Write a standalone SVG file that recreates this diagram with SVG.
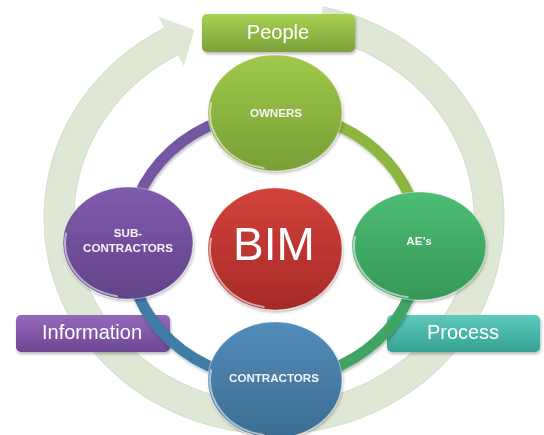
<svg xmlns="http://www.w3.org/2000/svg" width="544" height="435" viewBox="0 0 544 435">
  <defs>
    <linearGradient id="gOwn" x1="0" y1="0" x2="0" y2="1">
      <stop offset="0" stop-color="#a0c94b"/>
      <stop offset="1" stop-color="#779f35"/>
    </linearGradient>
    <linearGradient id="gSub" x1="0" y1="0" x2="0" y2="1">
      <stop offset="0" stop-color="#7f5bad"/>
      <stop offset="1" stop-color="#624389"/>
    </linearGradient>
    <linearGradient id="gBim" x1="0" y1="0" x2="0" y2="1">
      <stop offset="0" stop-color="#d3423a"/>
      <stop offset="1" stop-color="#a62a27"/>
    </linearGradient>
    <linearGradient id="gAe" x1="0" y1="0" x2="0" y2="1">
      <stop offset="0" stop-color="#4ebd75"/>
      <stop offset="1" stop-color="#359758"/>
    </linearGradient>
    <linearGradient id="gCon" x1="0" y1="0" x2="0" y2="1">
      <stop offset="0" stop-color="#528cb9"/>
      <stop offset="1" stop-color="#3b6c91"/>
    </linearGradient>
    <linearGradient id="gPeople" x1="0" y1="0" x2="0" y2="1">
      <stop offset="0" stop-color="#a8d053"/>
      <stop offset="1" stop-color="#7ca13a"/>
    </linearGradient>
    <linearGradient id="gInfo" x1="0" y1="0" x2="0" y2="1">
      <stop offset="0" stop-color="#9669bb"/>
      <stop offset="1" stop-color="#6c4693"/>
    </linearGradient>
    <linearGradient id="gProc" x1="0" y1="0" x2="0" y2="1">
      <stop offset="0" stop-color="#5ecbbd"/>
      <stop offset="1" stop-color="#35a193"/>
    </linearGradient>
    <filter id="sh" x="-20%" y="-20%" width="140%" height="140%">
      <feDropShadow dx="1" dy="2" stdDeviation="1.5" flood-color="#000" flood-opacity="0.28"/>
    </filter>
  </defs>
  <style>
    .lbl { font-family: "Liberation Sans", Arial, sans-serif; font-size: 20px; fill: #ffffff; text-anchor: middle; }
    .node { font-family: "Liberation Sans", Arial, sans-serif; font-size: 11.6px; font-weight: bold; fill: #f4f4f4; text-anchor: middle; }
    .bim { font-family: "Liberation Sans", Arial, sans-serif; font-size: 46px; fill: #ffffff; text-anchor: middle; }
    .rim { stroke: #ffffff; stroke-opacity: 0.35; stroke-width: 1.2; }
    .hl { fill: none; stroke: #ffffff; stroke-opacity: 0.55; stroke-width: 2; stroke-linecap: round; }
    .conn { fill: none; stroke-width: 11; stroke-linecap: butt; }
  </style>

  <g id="cycle-arrow">
    <path d="M 319.9 21.6 A 215 201 0 1 1 171.1 41.5" fill="none" stroke="#d5dec9" stroke-width="31"/>
    <path d="M 319.9 21.6 A 215 201 0 1 1 171.1 41.5" fill="none" stroke="#dfe7d5" stroke-width="29"/>
    <polygon points="158.4,16.5 194.3,29.7 183.8,66.4 171.6,42.5" fill="#dfe7d5"/>
  </g>

  <g id="people" filter="url(#sh)">
    <rect x="202" y="14" width="153" height="38" rx="5" fill="url(#gPeople)"/>
    <text class="lbl" x="278" y="38.5">People</text>
  </g>
  <g id="information" filter="url(#sh)">
    <rect x="16" y="315" width="154" height="37" rx="5" fill="url(#gInfo)"/>
    <text class="lbl" x="92" y="339">Information</text>
  </g>
  <g id="process" filter="url(#sh)">
    <rect x="387" y="315" width="153" height="37" rx="5" fill="url(#gProc)"/>
    <text class="lbl" x="463" y="339">Process</text>
  </g>

  <g id="connectors" filter="url(#sh)">
    <path class="conn" d="M 274 112 A 146 134 0 0 1 420 246" stroke="#8cb63c"/>
    <path class="conn" d="M 420 246 A 146 134 0 0 1 274 380" stroke="#3fa462"/>
    <path class="conn" d="M 274 380 A 146 134 0 0 1 128 246" stroke="#3f7ca6"/>
    <path class="conn" d="M 128 246 A 146 134 0 0 1 274 112" stroke="#7556a3"/>
  </g>

  <g id="owners" filter="url(#sh)">
    <ellipse cx="275" cy="113" rx="67" ry="58" fill="url(#gOwn)" class="rim"/>
    <path class="hl" d="M 263.7 168.1 A 65 56 0 0 1 211 103.3"/>
    <text class="node" x="276" y="116.5">OWNERS</text>
  </g>
  <g id="subcontractors" filter="url(#sh)">
    <ellipse cx="128" cy="243" rx="65" ry="56" fill="url(#gSub)" class="rim"/>
    <path class="hl" d="M 117.1 296.2 A 63 54 0 0 1 66 233.6"/>
    <text class="node" x="128" y="237">SUB-</text>
    <text class="node" x="128" y="252">CONTRACTORS</text>
  </g>
  <g id="bim" filter="url(#sh)">
    <ellipse cx="275" cy="249" rx="67" ry="61" fill="url(#gBim)" class="rim"/>
    <path class="hl" d="M 263.7 307.1 A 65 59 0 0 1 211 238.8"/>
    <text class="bim" x="274" y="260">BIM</text>
  </g>
  <g id="aes" filter="url(#sh)">
    <ellipse cx="419" cy="246" rx="67" ry="54" fill="url(#gAe)" class="rim"/>
    <path class="hl" d="M 407.7 297.2 A 65 52 0 0 1 355 237"/>
    <text class="node" x="419" y="245">AE’s</text>
  </g>
  <g id="contractors" filter="url(#sh)">
    <ellipse cx="275" cy="380" rx="67" ry="58" fill="url(#gCon)" class="rim"/>
    <path class="hl" d="M 263.7 435.1 A 65 56 0 0 1 211 370.3"/>
    <text class="node" x="274" y="382">CONTRACTORS</text>
  </g>
</svg>
